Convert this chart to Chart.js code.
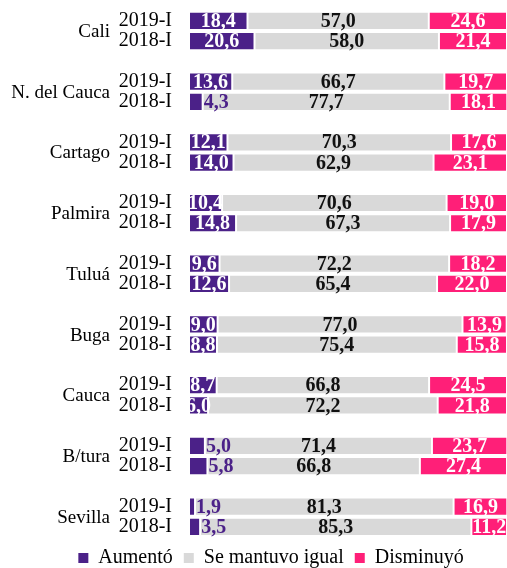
<!DOCTYPE html>
<html>
<head>
<meta charset="utf-8">
<script src="https://cdn.jsdelivr.net/npm/chart.js@4.4.1/dist/chart.umd.min.js"></script>
<style>
  html, body { margin: 0; padding: 0; background: #fff; }
  #wrap { width: 507px; height: 568px; }
</style>
</head>
<body>
<div id="wrap"><canvas id="chart"></canvas></div>
<script>
// data: each group has 2019-I then 2018-I
const groups = ['Cali', 'N. del Cauca', 'Cartago', 'Palmira', 'Tuluá', 'Buga', 'Cauca', 'B/tura', 'Sevilla'];
const periods = ['2019-I', '2018-I'];
const aumento   = [18.4, 20.6, 13.6, 4.3, 12.1, 14.0, 10.4, 14.8, 9.6, 12.6, 9.0, 8.8, 8.7, 6.0, 5.0, 5.8, 1.9, 3.5];
const igual     = [57.0, 58.0, 66.7, 77.7, 70.3, 62.9, 70.6, 67.3, 72.2, 65.4, 77.0, 75.4, 66.8, 72.2, 71.4, 66.8, 81.3, 85.3];
const disminuyo = [24.6, 21.4, 19.7, 18.1, 17.6, 23.1, 19.0, 17.9, 18.2, 22.0, 13.9, 15.8, 24.5, 21.8, 23.7, 27.4, 16.9, 11.2];

const PURPLE = '#4b2188';
const GRAY = '#d9d9d9';
const PINK = '#ff1f78';
const SERIF = "'Liberation Serif', 'DejaVu Serif', serif";

// spread pairs into rows, with an empty row between groups
const labels = [];
function rows(values) {
  const out = [];
  groups.forEach((g, gi) => {
    out.push(values[gi * 2], values[gi * 2 + 1]);
    if (gi < groups.length - 1) out.push(null);
  });
  return out;
}
groups.forEach((g, gi) => {
  labels.push(periods[0], periods[1]);
  if (gi < groups.length - 1) labels.push('');
});

const fmt = v => v.toFixed(1).replace('.', ',');

// group names to the left of the period labels
const groupNames = {
  id: 'groupNames',
  afterDraw(chart) {
    const ctx = chart.ctx;
    const y = chart.scales.y;
    ctx.save();
    ctx.font = '19px ' + SERIF;
    ctx.fillStyle = '#000';
    ctx.textAlign = 'right';
    ctx.textBaseline = 'middle';
    groups.forEach((g, gi) => {
      const yy = (y.getPixelForValue(gi * 3) + y.getPixelForValue(gi * 3 + 1)) / 2;
      ctx.fillText(g, 110, yy + 1);
    });
    ctx.restore();
  }
};

// value labels on the bars
const valueLabels = {
  id: 'valueLabels',
  afterDatasetsDraw(chart) {
    const ctx = chart.ctx;
    ctx.save();
    ctx.font = 'bold 20px ' + SERIF;
    ctx.textBaseline = 'middle';
    chart.data.datasets.forEach((ds, di) => {
      const meta = chart.getDatasetMeta(di);
      meta.data.forEach((bar, i) => {
        const v = ds.data[i];
        if (v == null) return;
        const { x, base, y } = bar.getProps(['x', 'base', 'y'], true);
        if (di === 0 && v < 6) {
          ctx.fillStyle = PURPLE;
          ctx.textAlign = 'left';
          ctx.fillText(fmt(v), x + 1, y + 1);
          return;
        }
        ctx.fillStyle = di === 1 ? '#111' : '#fff';
        ctx.textAlign = 'center';
        ctx.fillText(fmt(v), (x + base) / 2, y + 1);
      });
    });
    ctx.restore();
  }
};

const edge = { borderWidth: 1, borderColor: 'rgba(255,255,255,0.45)', borderSkipped: false };

new Chart(document.getElementById('chart'), {
  type: 'bar',
  data: {
    labels: labels,
    datasets: [
      { label: 'Aumentó', data: rows(aumento), backgroundColor: PURPLE, ...edge },
      { label: 'Se mantuvo igual', data: rows(igual), backgroundColor: GRAY, ...edge },
      { label: 'Disminuyó', data: rows(disminuyo), backgroundColor: PINK, ...edge }
    ]
  },
  options: {
    indexAxis: 'y',
    responsive: true,
    maintainAspectRatio: false,
    animation: false,
    events: [],
    categoryPercentage: 1,
    barPercentage: 0.9,
    layout: { padding: { top: 0, left: 35, right: 0, bottom: -10 } },
    scales: {
      x: {
        stacked: true,
        min: 0,
        max: 100,
        display: false
      },
      y: {
        stacked: true,
        grid: { display: false, drawTicks: true, tickLength: 17 },
        border: { display: false },
        ticks: {
          autoSkip: false,
          padding: 0,
          color: '#000',
          font: { family: SERIF, size: 20, lineHeight: 1.07 }
        },
        afterFit(scale) { scale.width = 154; }
      }
    },
    plugins: {
      tooltip: { enabled: false },
      legend: {
        position: 'bottom',
        labels: {
          boxWidth: 10,
          boxHeight: 10,
          padding: 11,
          color: '#000',
          font: { family: SERIF, size: 20 },
          generateLabels(chart) {
            return chart.data.datasets.map((ds, i) => ({
              text: ds.label,
              fillStyle: ds.backgroundColor,
              strokeStyle: ds.backgroundColor,
              lineWidth: 0,
              fontColor: '#000',
              datasetIndex: i
            }));
          }
        }
      }
    }
  },
  plugins: [groupNames, valueLabels]
});
</script>
</body>
</html>
